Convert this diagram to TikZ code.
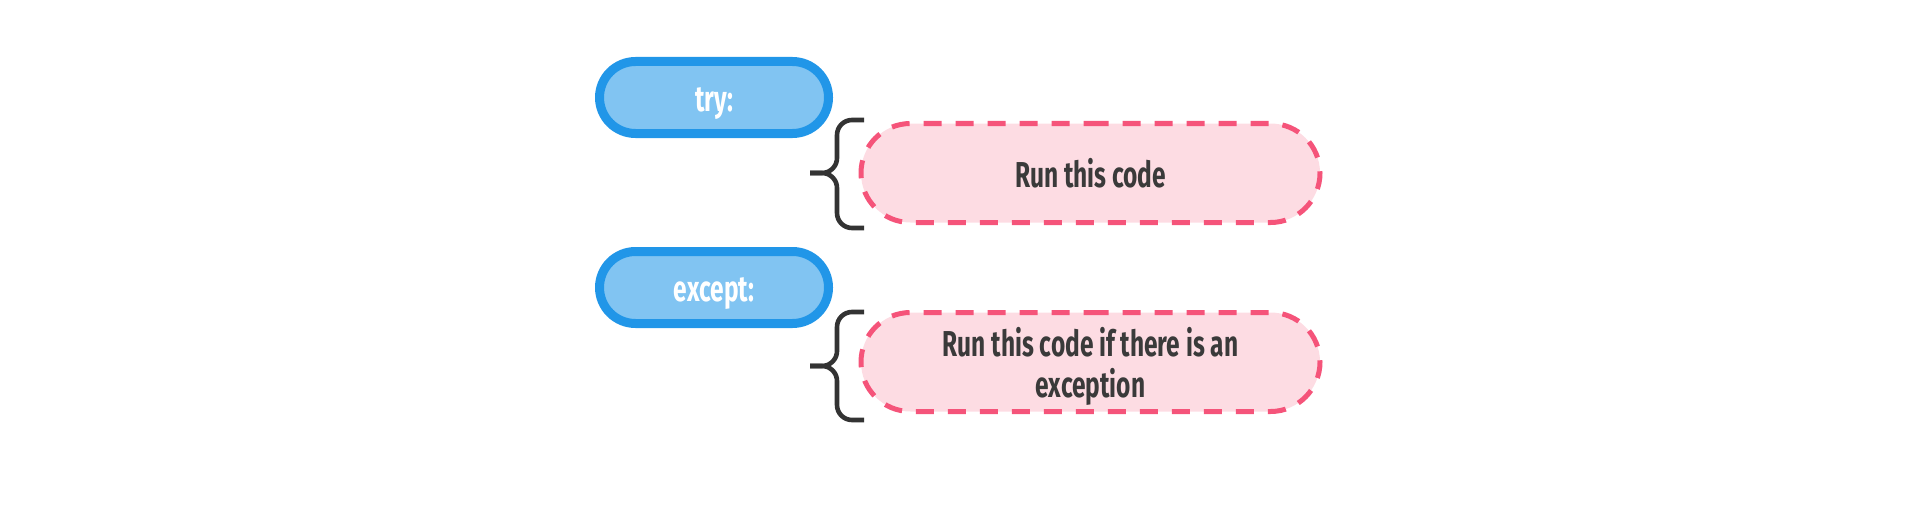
\documentclass[tikz,border=0pt]{standalone}
\usepackage{fontspec}
\newfontfamily\condfont[FakeStretch=0.68]{Fira Sans}
\usetikzlibrary{shapes.misc}
\definecolor{bluestroke}{HTML}{2196E8}
\definecolor{bluefill}{HTML}{81C4F2}
\definecolor{pinkstroke}{HTML}{F5547A}
\definecolor{pinkfill}{HTML}{FDDCE3}
\definecolor{textdark}{HTML}{3A3A3A}
\definecolor{bracecol}{HTML}{333333}
\begin{document}
\begin{tikzpicture}[x=0.5pt,y=-0.5pt,
  keyword/.style={rounded rectangle, draw=bluestroke, fill=bluefill, line width=4.5pt,
    minimum width=114.5pt, minimum height=36pt, inner sep=0pt, text=white,
    text height=14pt, text depth=0pt,
    font=\condfont\bfseries\fontsize{18}{20.5}\selectfont},
  body/.style={rounded rectangle, draw=pinkstroke, fill=pinkfill, line width=2.5pt,
    dash pattern=on 9pt off 7pt, minimum width=229.5pt, minimum height=49.5pt,
    inner sep=0pt, text=textdark, align=center,
    font=\condfont\bfseries\fontsize{18}{20.5}\selectfont},
  bracepath/.style={draw=bracecol, line width=2.3pt, rounded corners=7.5pt}]
\useasboundingbox (0,0) rectangle (1920,508);
\node[keyword] (try) at (714,97.5) {try:};
\node[keyword] (except) at (714,287.5) {except:};
\node[body, text height=14pt, text depth=0pt] (run) at (1090.5,173) {Run this code};
\node[body, text depth=0pt] (runexc) at (1090.5,362) {Run this code if there is an\\exception};
\draw[bracepath] (864,120) -| (837,173) -- (810,173);
\draw[bracepath] (810,173) -- (837,173) |- (864,228);
\draw[bracepath] (864,312) -| (837,366) -- (810,366);
\draw[bracepath] (810,366) -- (837,366) |- (864,420);
\end{tikzpicture}
\end{document}
